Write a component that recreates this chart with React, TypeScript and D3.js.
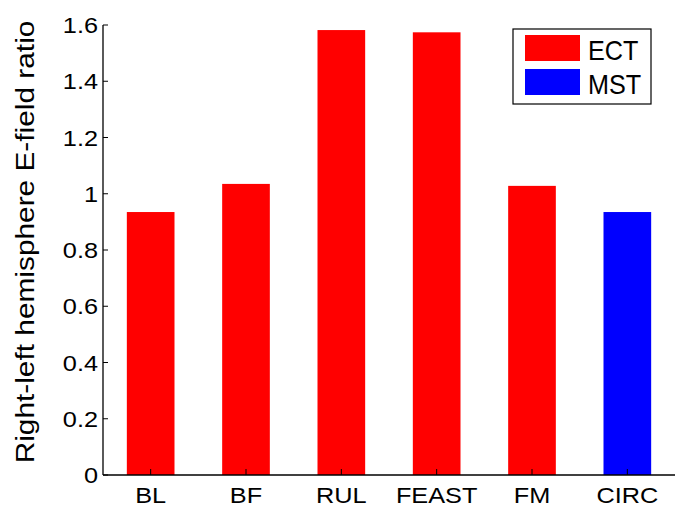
import React from "react";
import * as d3 from "d3";

const categories = ["BL", "BF", "RUL", "FEAST", "FM", "CIRC"];
const values = [0.935, 1.035, 1.582, 1.574, 1.028, 0.935];
const groups = ["ECT", "ECT", "ECT", "ECT", "ECT", "MST"];
const legendItems = ["ECT", "MST"];
const yTicks = [0, 0.2, 0.4, 0.6, 0.8, 1, 1.2, 1.4, 1.6];
const yLabel = "Right-left hemisphere E-field ratio";

const W = 689;
const H = 517;
const left = 103;
const right = 675;
const top = 25;
const bottom = 475;

export default function App() {
  const x = d3.scaleLinear().domain([0.5, categories.length + 0.5]).range([left, right]);
  const y = d3.scaleLinear().domain([0, 1.6]).range([bottom, top]);
  const color = d3.scaleOrdinal<string, string>().domain(legendItems).range(["#ff0000", "#0000ff"]);
  const bw = x(1.5) - x(1);
  const font = "Arial, 'Liberation Sans', sans-serif";
  const sx = 1.15;

  return (
    <svg width={W} height={H} style={{ position: "absolute", left: 0, top: 0, background: "#fff" }}>
      <rect x={0} y={0} width={W} height={H} fill="#fff" />
      {categories.map((c, i) => (
        <rect
          key={c}
          x={x(i + 1) - bw / 2}
          y={y(values[i])}
          width={bw}
          height={y(0) - y(values[i])}
          fill={color(groups[i])}
        />
      ))}
      <line x1={left} x2={left} y1={top} y2={bottom} stroke="#000" strokeWidth={1.3} />
      <line x1={left} x2={right} y1={bottom} y2={bottom} stroke="#000" strokeWidth={1.3} />
      {yTicks.map((t) => (
        <g key={t}>
          <line x1={left} x2={left + 5} y1={y(t)} y2={y(t)} stroke="#000" strokeWidth={1} />
          <g transform={`translate(98,${y(t) + 8}) scale(${sx},1)`}>
            <text x={0} y={0} textAnchor="end" fontFamily={font} fontSize={22} fill="#000">
              {d3.format("~g")(t)}
            </text>
          </g>
        </g>
      ))}
      {categories.map((c, i) => (
        <g key={c}>
          <line x1={x(i + 1)} x2={x(i + 1)} y1={bottom} y2={bottom - 6} stroke="#000" strokeWidth={1} />
          <g transform={`translate(${x(i + 1)},502.5) scale(${sx},1)`}>
            <text x={0} y={0} textAnchor="middle" fontFamily={font} fontSize={22} fill="#000">
              {c}
            </text>
          </g>
        </g>
      ))}
      <g transform={`translate(34,${(top + bottom) / 2 - 8}) rotate(-90) scale(1.17,1)`}>
        <text x={0} y={0} textAnchor="middle" fontFamily={font} fontSize={25.5} fill="#000">
          {yLabel}
        </text>
      </g>
      <rect x={513} y={29} width={138} height={75} fill="#fff" stroke="#000" strokeWidth={1.2} />
      {legendItems.map((k, i) => (
        <g key={k}>
          <rect x={525} y={35 + i * 34} width={55} height={26} fill={color(k)} />
          <g transform={`translate(588,${59.5 + i * 34.5}) scale(0.9,1)`}>
            <text x={0} y={0} fontFamily={font} fontSize={28} fill="#000">
              {k}
            </text>
          </g>
        </g>
      ))}
    </svg>
  );
}
